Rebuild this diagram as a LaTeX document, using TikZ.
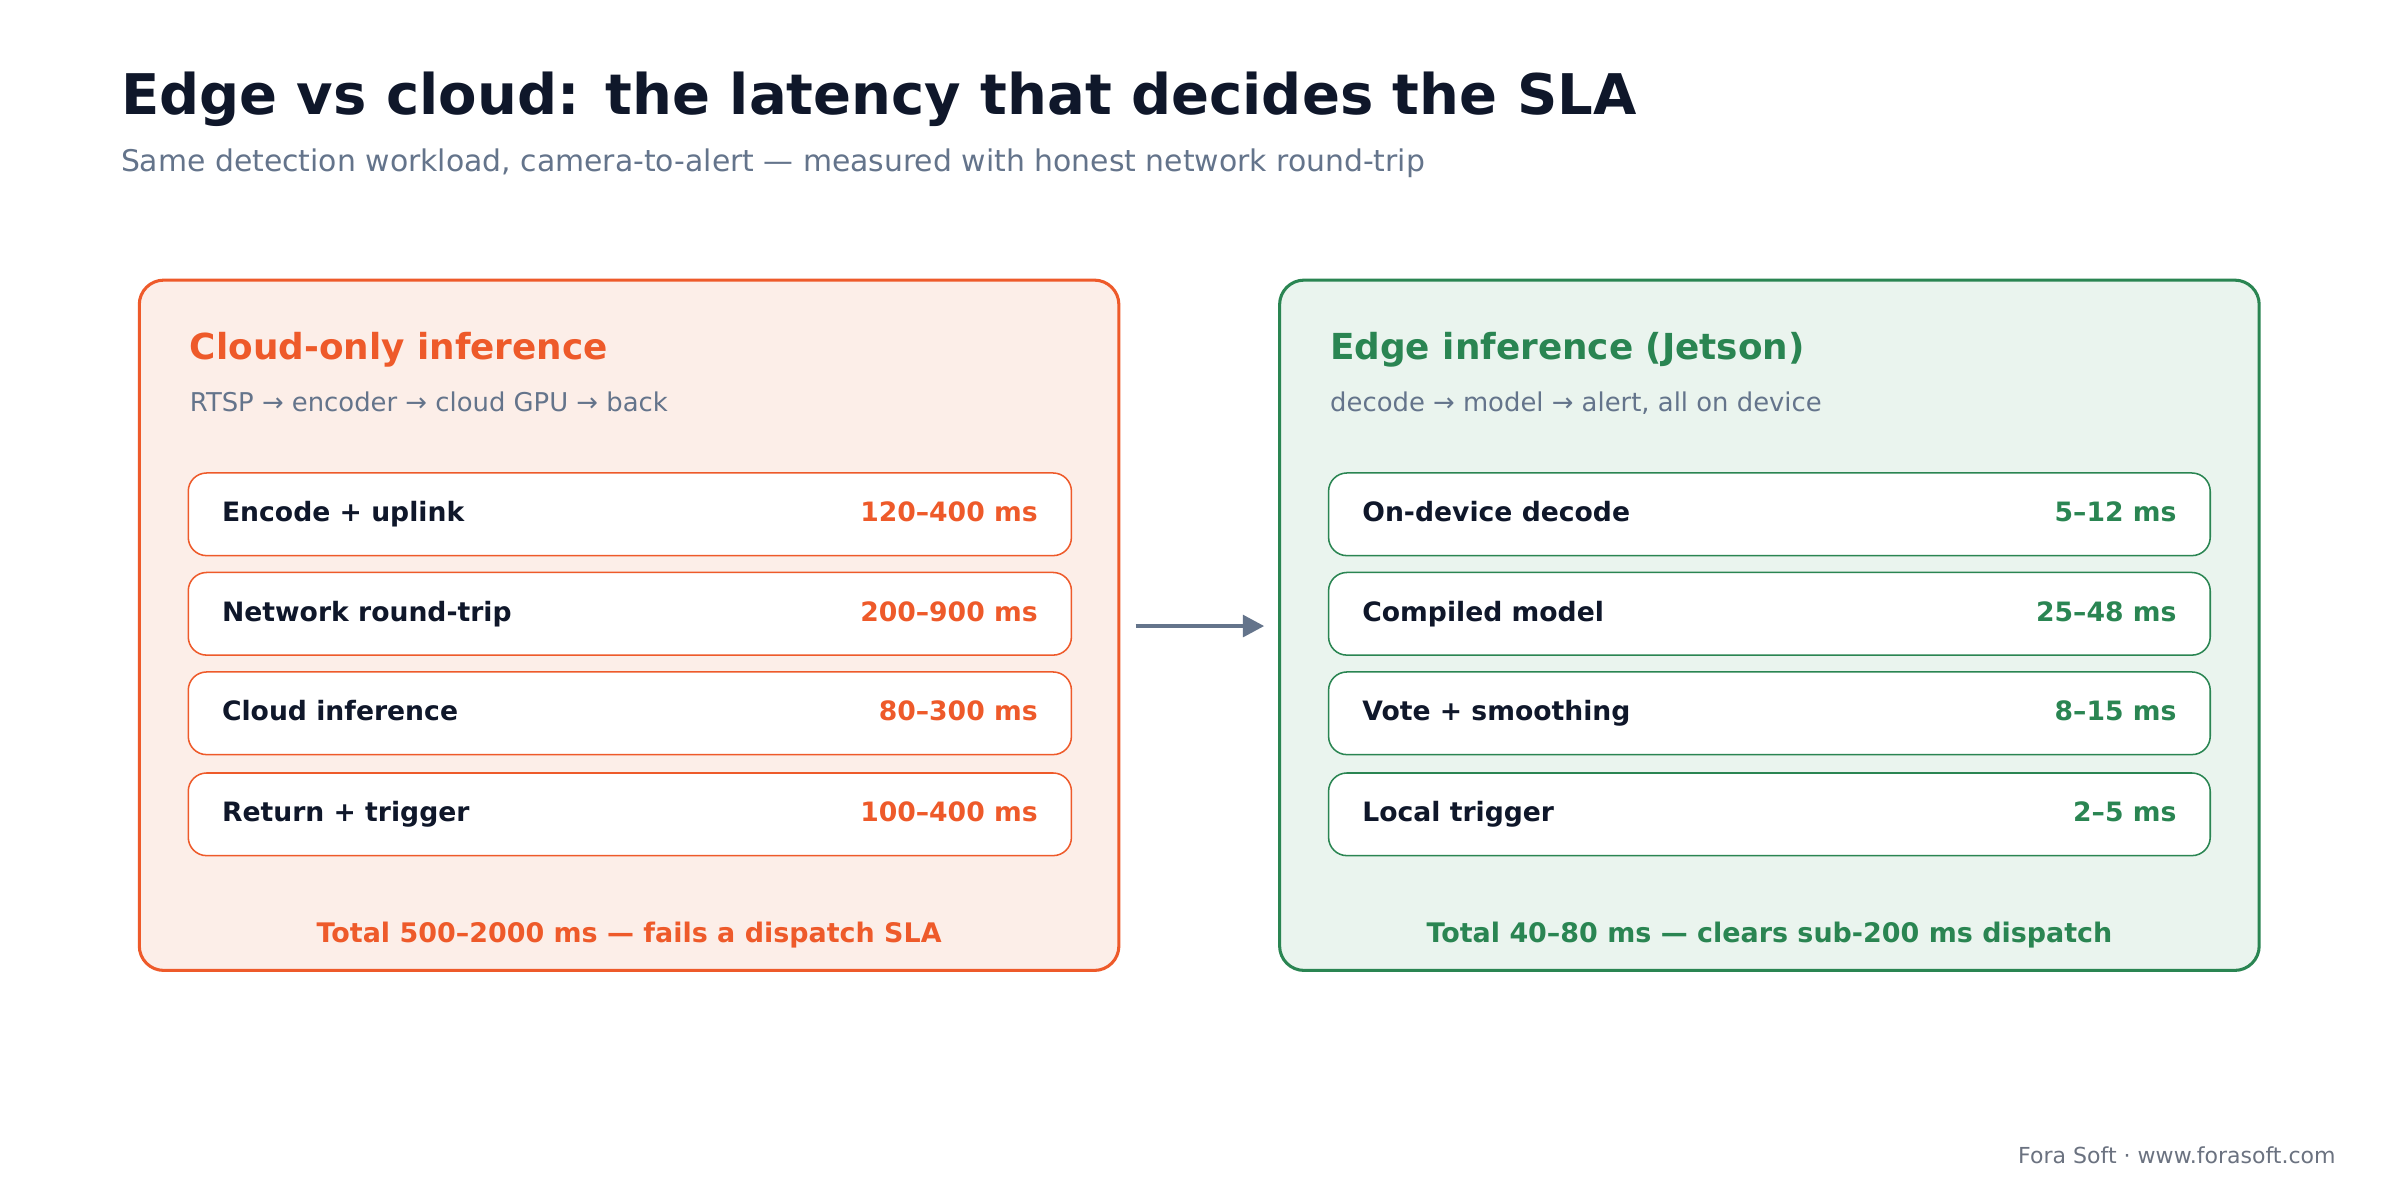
\documentclass[tikz,border=0pt]{standalone}
\usepackage{fontspec}
\setmainfont{DejaVu Sans}
\usetikzlibrary{arrows.meta}
\definecolor{org}{HTML}{EE5A2A}
\definecolor{orgf}{HTML}{FCEEE8}
\definecolor{grn}{HTML}{2A8552}
\definecolor{grnf}{HTML}{EAF4EE}
\definecolor{navy}{HTML}{0F172A}
\definecolor{slate}{HTML}{64748B}
\definecolor{footc}{HTML}{6B7280}
\tikzset{
 panel/.style={draw=#1, line width=1pt, rounded corners=8pt},
 rowbox/.style={draw=#1, fill=white, line width=0.5pt, rounded corners=6pt},
 lab/.style={anchor=base west, font=\fontsize{8.7}{10}\selectfont\bfseries, text=navy},
 val/.style={anchor=base east, font=\fontsize{8.7}{10}\selectfont\bfseries, text=#1},
 ptitle/.style={anchor=base west, font=\fontsize{11.7}{14}\selectfont\bfseries, text=#1},
 psub/.style={anchor=base west, font=\fontsize{8.45}{10}\selectfont, text=slate},
 tot/.style={anchor=base, font=\fontsize{8.8}{10}\selectfont\bfseries, text=#1},
}
\begin{document}
\begin{tikzpicture}[x=0.5pt,y=-0.5pt]
\useasboundingbox[fill=white] (0,0) rectangle (1568,784);
\node[anchor=base west, font=\fontsize{18.3}{22}\selectfont\bfseries, text=navy] (title) at (72,75) {Edge vs cloud: the latency that decides the SLA};
\node[anchor=base west, font=\fontsize{9.75}{12}\selectfont, text=slate] (sub) at (72,112) {Same detection workload, camera-to-alert — measured with honest network round-trip};
\draw[panel=org, fill=orgf] (91,183) rectangle (731,634);
\node[ptitle=org] (lt) at (117,235) {Cloud-only inference};
\node[psub] (ls) at (117,269) {RTSP → encoder → cloud GPU → back};
\draw[panel=grn, fill=grnf] (836,183) rectangle (1476,634);
\node[ptitle=grn] (rt) at (862,235) {Edge inference (Jetson)};
\node[psub] (rs) at (862,269) {decode → model → alert, all on device};
\foreach \y/\a/\b/\c/\d [count=\i] in {309/Encode + uplink/120–400 ms/On-device decode/5–12 ms,
  374/Network round-trip/200–900 ms/Compiled model/25–48 ms,
  439/Cloud inference/80–300 ms/Vote + smoothing/8–15 ms,
  505/Return + trigger/100–400 ms/Local trigger/2–5 ms}{
 \draw[rowbox=org] (123,\y) rectangle (700,\y+54);
 \node[lab] (la\i) at (138,\y+32) {\a};
 \node[val=org] (lv\i) at (685,\y+32) {\b};
 \draw[rowbox=grn] (868,\y) rectangle (1444,\y+54);
 \node[lab] (ra\i) at (883,\y+32) {\c};
 \node[val=grn] (rv\i) at (1429,\y+32) {\d};
}
\node[tot=org] (ltot) at (411,616) {Total 500–2000 ms — fails a dispatch SLA};
\node[tot=grn] (rtot) at (1156,616) {Total 40–80 ms — clears sub-200 ms dispatch};
\coordinate (a1) at (742,409);
\coordinate (a2) at (826,409);
\draw[slate, line width=1.5pt, -{Triangle[length=7pt,width=7pt]}] (a1) -- (a2);
\node[anchor=base east, font=\fontsize{7.2}{8}\selectfont, text=footc] (foot) at (1533,760) {Fora Soft · www.forasoft.com};
\end{tikzpicture}
\end{document}
